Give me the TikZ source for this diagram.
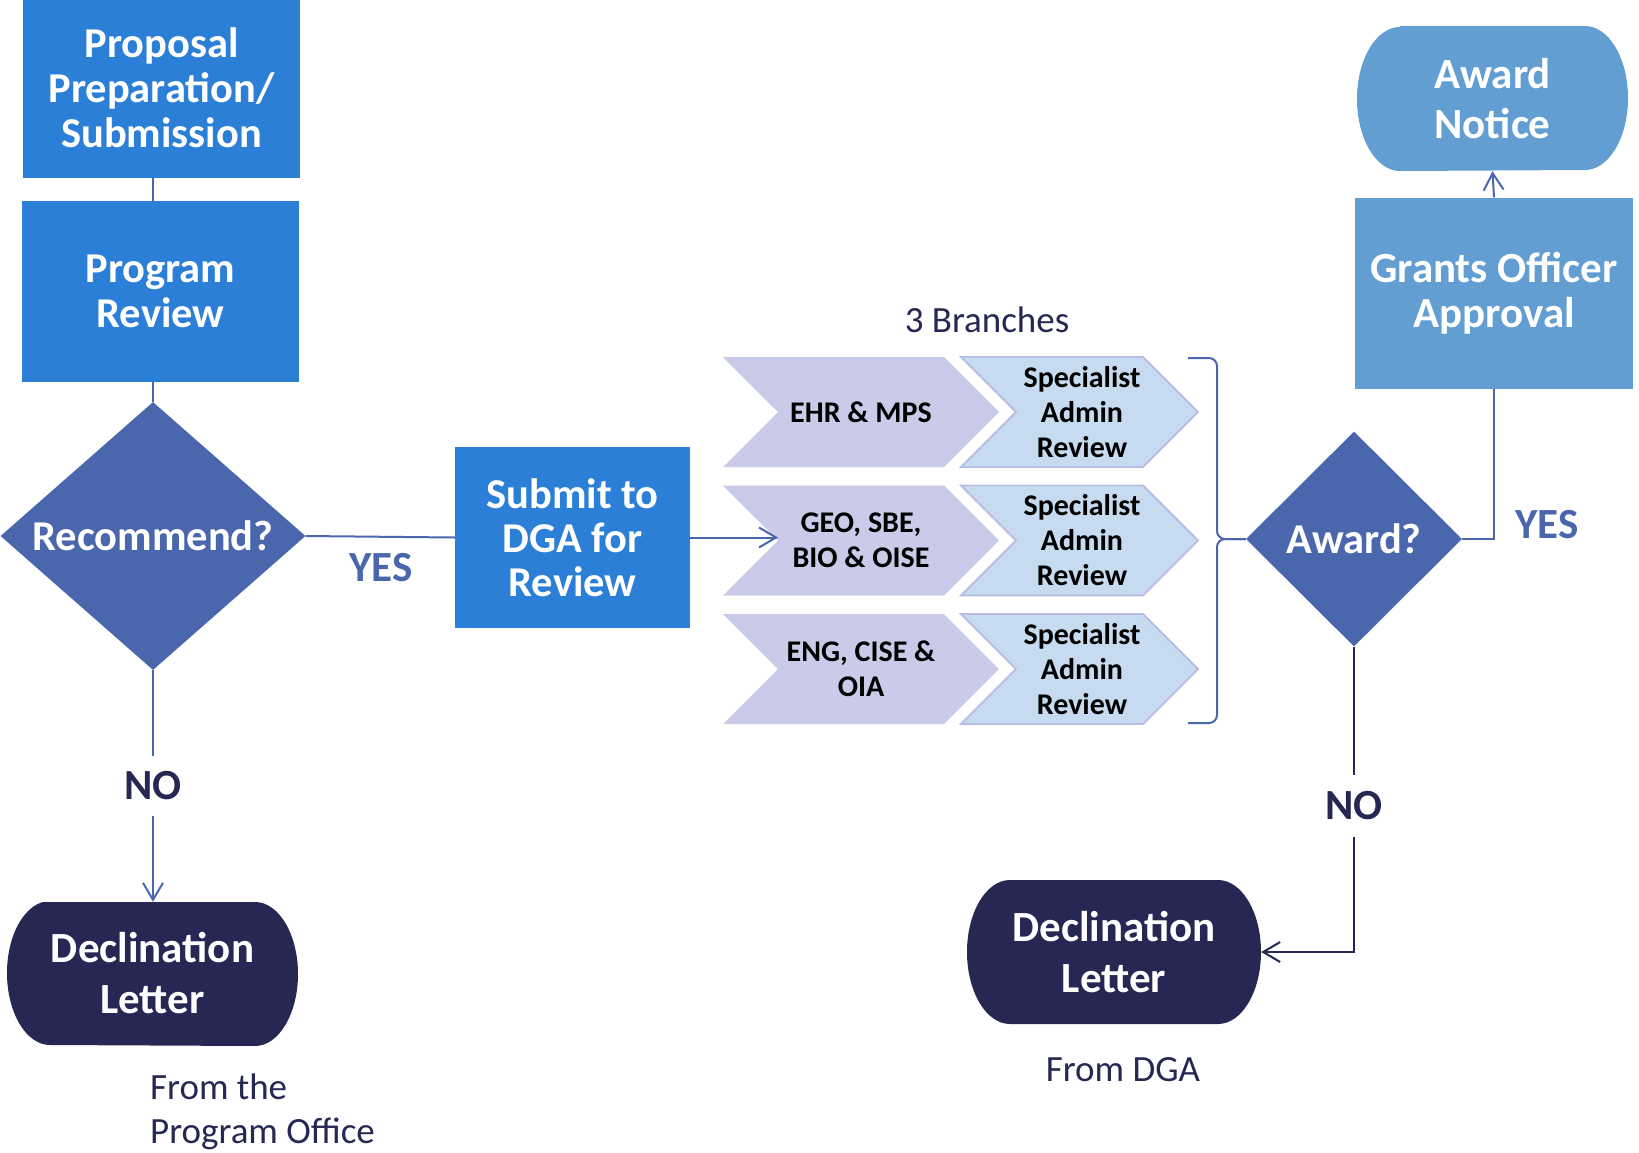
\documentclass[tikz,border=0pt]{standalone}
\usepackage{fontspec}
\setmainfont{Carlito}
\usepackage{xcolor}
\usetikzlibrary{positioning, shapes.geometric, arrows.meta}
\definecolor{boxblue}{HTML}{2B7FD6}
\definecolor{skyblue}{HTML}{629ED2}
\definecolor{decide}{HTML}{4A67AE}
\definecolor{navy}{HTML}{262853}
\definecolor{lilac}{HTML}{CACBE8}
\definecolor{paleblue}{HTML}{C6DBEF}
\definecolor{lilacline}{HTML}{B9BDE3}
\newcommand{\fs}[2]{\fontsize{#1}{#2}\selectfont}

\begin{document}
\begin{tikzpicture}[x=1pt, y=-1pt,
  stepbox/.style={rectangle, fill=boxblue, text=white, font=\bfseries\fs{42.5}{45},
    align=center, inner sep=0pt},
  decision/.style={diamond, fill=decide, text=white, font=\bfseries\fs{42.5}{45}, inner sep=0pt},
  terminal/.style={rectangle, text=white, font=\bfseries\fs{43}{51}, align=center, inner sep=0pt,
    path picture={\fill[#1] ([xshift=43pt]path picture bounding box.north west)
      -- ([xshift=-43pt]path picture bounding box.north east)
      arc[start angle=90, end angle=-90, x radius=43pt, y radius=72pt]
      -- ([xshift=43pt]path picture bounding box.south west)
      arc[start angle=270, end angle=90, x radius=43pt, y radius=72pt] -- cycle;}},
  chevtext/.style={font=\bfseries\fs{30}{35}, text=black, align=center, inner sep=0pt},
  yesno/.style={font=\bfseries\fs{43}{44}, inner sep=0pt},
  note/.style={font=\fs{37}{44}, text=navy, inner sep=0pt},
  link/.style={draw=decide, line width=2pt},
  openarrow/.style={-{Straight Barb[length=17pt, width=20pt]}}]
  \useasboundingbox (0,0) rectangle (1639,1152);

  \node[stepbox, minimum width=277pt, minimum height=180pt] (prop) at (161.5,88)
    {Proposal\\Preparation/\\Submission};
  \node[stepbox, minimum width=277pt, minimum height=181pt] (prog) at (160.5,291.5)
    {Program\\Review};
  \node[decision, aspect=1.14, minimum width=305pt, minimum height=268pt] (rec) at (153,536)
    {Recommend?};
  \node[stepbox, font=\bfseries\fs{42.5}{44}, minimum width=235pt, minimum height=181pt]
    (sub) at (572.5,537.5) {Submit to\\DGA for\\Review};
  \node[terminal=navy, minimum width=291pt, minimum height=143pt] (declpo) at (152.5,973.5)
    {Declination\\Letter};
  \node[terminal=navy, minimum width=294pt, minimum height=144pt] (decldga) at (1114,952)
    {Declination\\Letter};
  \node[decision, minimum width=216pt, minimum height=215pt] (award) at (1354,539) {Award?};
  \node[stepbox, fill=skyblue, font=\bfseries\fs{43}{45}, minimum width=278pt,
    minimum height=191pt] (grant) at (1494,293) {Grants Officer\\Approval};
  \node[terminal=skyblue, font=\bfseries\fs{43}{50}, minimum width=271pt,
    minimum height=145pt] (notice) at (1492.5,98.5) {Award\\Notice};

  \foreach \i/\nm/\txt in {
    0/ehr/{EHR \& MPS},
    1/geo/{GEO, SBE,\\BIO \& OISE},
    2/eng/{ENG, CISE \&\\OIA}}
  {
    \pgfmathsetmacro{\cy}{412+\i*128.5}
    \fill[lilac] (723,\cy-55) -- (944,\cy-55) -- (999,\cy) -- (944,\cy+55)
      -- (723,\cy+55) -- (778,\cy) -- cycle;
    \filldraw[fill=paleblue, draw=lilacline, line width=1.8pt] (961,\cy-55) -- (1143,\cy-55)
      -- (1198,\cy) -- (1143,\cy+55) -- (961,\cy+55) -- (1016,\cy) -- cycle;
    \coordinate (\nm-in) at (778,\cy);
    \node[chevtext] (\nm) at (861,\cy) {\txt};
    \node[chevtext] (spec\i) at (1082,\cy) {Specialist\\Admin\\Review};
  }
  \node[note, anchor=base] (branches) at (987,332) {3 Branches};

  \coordinate (brtop) at (1188,358);
  \coordinate (brbot) at (1188,723);
  \draw[link, rounded corners=8pt] (brtop) -- ++(29,0) |- (award.west);
  \draw[link, rounded corners=8pt] (brbot) -- ++(29,0) |- (award.west);

  \draw[link] (rec.north |- prop.south) -- (rec.north |- prog.north);
  \draw[link] (rec.north |- prog.south) -- (rec.north);
  \draw[link] (rec.east) -- (sub.west);
  \draw[link, openarrow] (sub.east) -- (sub.east -| geo-in);
  \node[yesno, text=decide] (yes1) at (381,568) {YES};

  \node[yesno, text=navy, minimum height=60pt] (no1) at (153,786) {NO};
  \draw[link] (rec.south) -- (no1.north);
  \draw[link, openarrow] (no1.south) -- (no1.south |- declpo.north);

  \node[yesno, text=navy, minimum height=62pt] (no2) at (1354,806) {NO};
  \draw[link, draw=navy] (award.south) -- (no2.north);
  \draw[link, draw=navy, openarrow] (no2.south) |- (decldga.east);

  \draw[link] (award.east) -| (grant.south);
  \node[yesno, text=decide] (yes2) at (1547,525) {YES};
  \draw[link, openarrow] (grant.north) -- (notice.south);

  \node[note, anchor=base] (fromdga) at (1123,1081) {From DGA};
  \node[note, anchor=base west, align=left] (frompo) at (150,1143) {From the\\Program Office};
\end{tikzpicture}
\end{document}
